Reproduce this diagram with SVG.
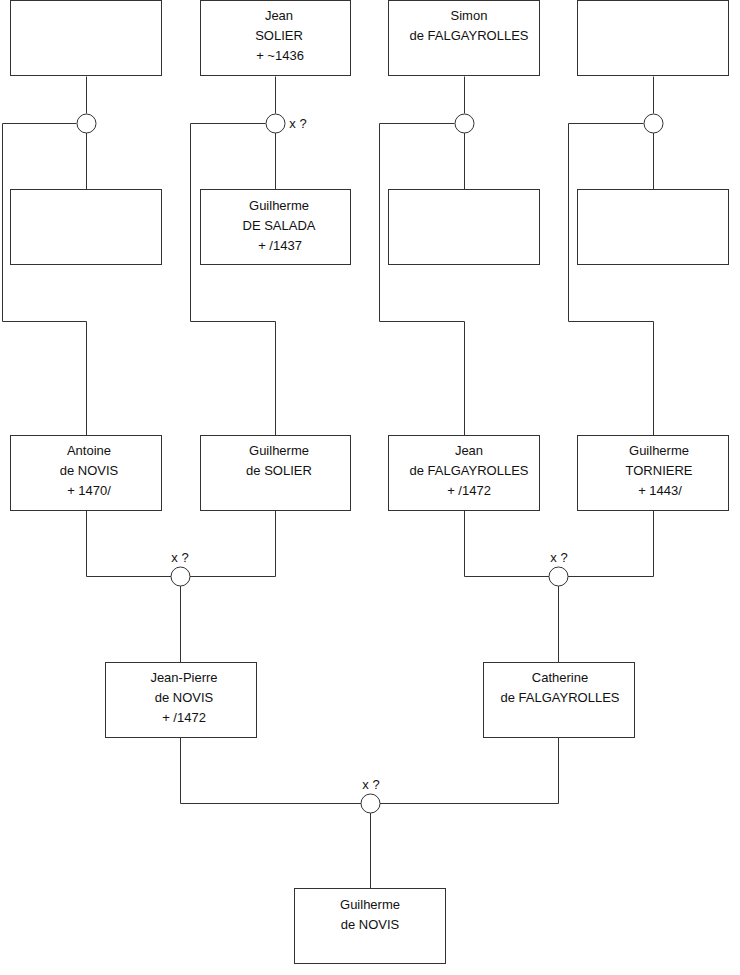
<svg xmlns="http://www.w3.org/2000/svg" width="740" height="975" viewBox="0 0 740 975">
<style>
.b{fill:#fff;stroke:#333;stroke-width:1}
.c{fill:none;stroke:#333;stroke-width:1}
.m{fill:#fff;stroke:#333;stroke-width:1}
text{font-family:"Liberation Sans",Arial,sans-serif;font-size:13px;fill:#111;text-anchor:middle}
</style>
<rect width="740" height="975" fill="#fff"/>
<g id="connectors">
<path class="c" d="M86.5 76.5V113.5M86.5 132.5V189.5M76.5 123.5H2.5V321.5H86.5V435"/>
<path class="c" d="M275.5 76.5V113.5M275.5 132.5V189.5M265.5 123.5H190.5V321.5H275.5V435"/>
<path class="c" d="M464.5 76.5V113.5M464.5 132.5V189.5M454.5 123.5H379.5V321.5H464.5V435"/>
<path class="c" d="M653.5 76.5V113.5M653.5 132.5V189.5M643.5 123.5H568.5V321.5H653.5V435"/>
<path class="c" d="M86.5 510.5V576.5H171M190 576.5H275.5V510.5M180.5 586V662"/>
<path class="c" d="M464.5 510.5V576.5H549M568 576.5H653.5V510.5M558.5 586V662"/>
<path class="c" d="M180.5 737.5V803.5H361M380 803.5H558.5V737.5M370.5 813V888"/>
</g>
<g id="m1"><circle class="m" cx="86.5" cy="123.5" r="9.5"/></g>
<g id="m2"><circle class="m" cx="275.5" cy="123.5" r="9.5"/><text x="298" y="128">x ?</text></g>
<g id="m3"><circle class="m" cx="464.5" cy="123.5" r="9.5"/></g>
<g id="m4"><circle class="m" cx="653.5" cy="123.5" r="9.5"/></g>
<g id="m5"><circle class="m" cx="180.5" cy="576.5" r="9.5"/><text x="180" y="562">x ?</text></g>
<g id="m6"><circle class="m" cx="558.5" cy="576.5" r="9.5"/><text x="559" y="562">x ?</text></g>
<g id="m7"><circle class="m" cx="370.5" cy="803.5" r="9.5"/><text x="371" y="789">x ?</text></g>
<g id="n1"><rect class="b" x="10.5" y="0.5" width="151" height="75"/></g>
<g id="n2"><rect class="b" x="200.5" y="0.5" width="150" height="75"/><text x="279" y="20">Jean</text><text x="279" y="40">SOLIER</text><text x="280" y="60">+ ~1436</text></g>
<g id="n3"><rect class="b" x="388.5" y="0.5" width="151" height="75"/><text x="469" y="20">Simon</text><text x="469" y="40">de FALGAYROLLES</text></g>
<g id="n4"><rect class="b" x="577.5" y="0.5" width="151" height="75"/></g>
<g id="n5"><rect class="b" x="10.5" y="189.5" width="151" height="75"/></g>
<g id="n6"><rect class="b" x="200.5" y="189.5" width="150" height="75"/><text x="279" y="210">Guilherme</text><text x="279" y="230">DE SALADA</text><text x="280" y="250">+ /1437</text></g>
<g id="n7"><rect class="b" x="388.5" y="189.5" width="151" height="75"/></g>
<g id="n8"><rect class="b" x="577.5" y="189.5" width="151" height="75"/></g>
<g id="n9"><rect class="b" x="10.5" y="435.5" width="151" height="75"/><text x="89" y="455">Antoine</text><text x="89" y="475">de NOVIS</text><text x="89" y="495">+ 1470/</text></g>
<g id="n10"><rect class="b" x="200.5" y="435.5" width="150" height="75"/><text x="279" y="455">Guilherme</text><text x="279" y="475">de SOLIER</text></g>
<g id="n11"><rect class="b" x="388.5" y="435.5" width="151" height="75"/><text x="469" y="455">Jean</text><text x="469" y="475">de FALGAYROLLES</text><text x="469" y="495">+ /1472</text></g>
<g id="n12"><rect class="b" x="577.5" y="435.5" width="151" height="75"/><text x="659" y="455">Guilherme</text><text x="659" y="475">TORNIERE</text><text x="660" y="495">+ 1443/</text></g>
<g id="n13"><rect class="b" x="105.5" y="662.5" width="151" height="75"/><text x="184" y="682">Jean-Pierre</text><text x="184" y="702">de NOVIS</text><text x="184" y="722">+ /1472</text></g>
<g id="n14"><rect class="b" x="483.5" y="662.5" width="151" height="75"/><text x="560" y="682">Catherine</text><text x="560" y="702">de FALGAYROLLES</text></g>
<g id="n15"><rect class="b" x="294.5" y="888.5" width="151" height="75"/><text x="370" y="909">Guilherme</text><text x="370" y="929">de NOVIS</text></g>
</svg>
